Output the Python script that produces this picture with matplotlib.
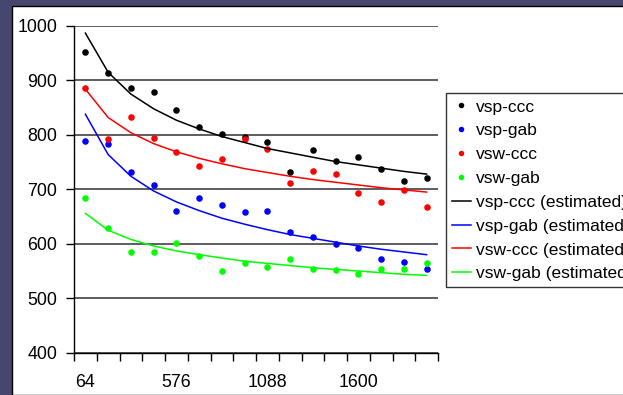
import matplotlib.pyplot as plt
from matplotlib.patches import Rectangle

# category axis: block sizes
sizes = [64, 192, 320, 448, 576, 704, 832, 960, 1088, 1216, 1344, 1472, 1600, 1728, 1856, 1984]
label_sizes = [64, 576, 1088, 1600]

# measured points
vsp_ccc = [953, 914, 887, 879, 845, 814, 801, 796, 787, 731, 772, 752, 759, 737, 715, 720]
vsp_gab = [788, 783, 731, 708, 660, 684, 671, 659, 661, 621, 613, 600, 592, 573, 566, 554]
vsw_ccc = [886, 793, 832, 794, 769, 743, 755, 792, 774, 712, 734, 729, 693, 676, 698, 668]
vsw_gab = [685, 629, 585, 585, 601, 578, 550, 565, 558, 572, 553, 551, 545, 553, 554, 565]

# estimated curves
vsp_ccc_est = [987, 915, 875, 848, 827, 811, 797, 786, 775, 767, 759, 751, 745, 739, 733, 728]
vsp_gab_est = [838, 764, 724, 697, 677, 661, 647, 636, 626, 617, 610, 603, 596, 590, 585, 580]
vsw_ccc_est = [884, 832, 804, 784, 769, 757, 747, 738, 731, 724, 718, 713, 708, 703, 699, 695]
vsw_gab_est = [656, 625, 608, 596, 587, 580, 574, 568, 564, 560, 556, 553, 550, 547, 544, 542]

plt.rcParams['font.family'] = ['Liberation Sans', 'DejaVu Sans']

fig = plt.figure(figsize=(6.23, 3.95), dpi=100, facecolor='#46466e')
panel = Rectangle((12 / 623, 0), 1, 1 - 6 / 395, transform=fig.transFigure,
                  facecolor='white', edgecolor='black', lw=1, zorder=-10)
fig.patches.append(panel)

ax = fig.add_axes([74 / 623, 1 - 352.7 / 395, (438 - 74) / 623, (352.7 - 26) / 395])
ax.set_facecolor('none')

ms = 3.7
ax.plot(sizes, vsp_ccc, 'o', color='black', ms=ms, label='vsp-ccc')
ax.plot(sizes, vsp_gab, 'o', color='#0000ff', ms=ms, label='vsp-gab')
ax.plot(sizes, vsw_ccc, 'o', color='#ff0000', ms=ms, label='vsw-ccc')
ax.plot(sizes, vsw_gab, 'o', color='#00ff00', ms=ms, label='vsw-gab')
ax.plot(sizes, vsp_ccc_est, '-', color='black', lw=1.1, label='vsp-ccc (estimated)')
ax.plot(sizes, vsp_gab_est, '-', color='#0000ff', lw=1.1, label='vsp-gab (estimated)')
ax.plot(sizes, vsw_ccc_est, '-', color='#ff0000', lw=1.1, label='vsw-ccc (estimated)')
ax.plot(sizes, vsw_gab_est, '-', color='#00ff00', lw=1.1, label='vsw-gab (estimated)')

ax.set_xlim(0, 2048)
ax.set_ylim(400, 1000)
ax.set_yticks(range(400, 1001, 100))
ax.yaxis.grid(True, color='#505050', lw=1.3)
ax.set_axisbelow(True)
ax.set_xticks(range(0, 2049, 128), minor=True)
ax.set_xticks(label_sizes)
ax.tick_params(axis='x', which='major', length=0, pad=15, labelsize=12.8)
ax.tick_params(axis='x', which='minor', length=6, width=1, color='black')
ax.tick_params(axis='y', length=6, width=1, pad=6, labelsize=12.8)
for s in ['top', 'right']:
    ax.spines[s].set_visible(False)
for s in ['left', 'bottom']:
    ax.spines[s].set_color('black')
    ax.spines[s].set_linewidth(1)

leg = fig.legend(loc='upper left', bbox_to_anchor=(445.7 / 623, 1 - 93.3 / 395),
                 fontsize=12.5, frameon=True, fancybox=False, edgecolor='black',
                 handlelength=1.1, handletextpad=0.3, labelspacing=0.5,
                 borderpad=0.35, borderaxespad=0, markerscale=0.8)
leg.get_frame().set_linewidth(1)

fig.savefig('out.png', dpi=100, facecolor=fig.get_facecolor())
